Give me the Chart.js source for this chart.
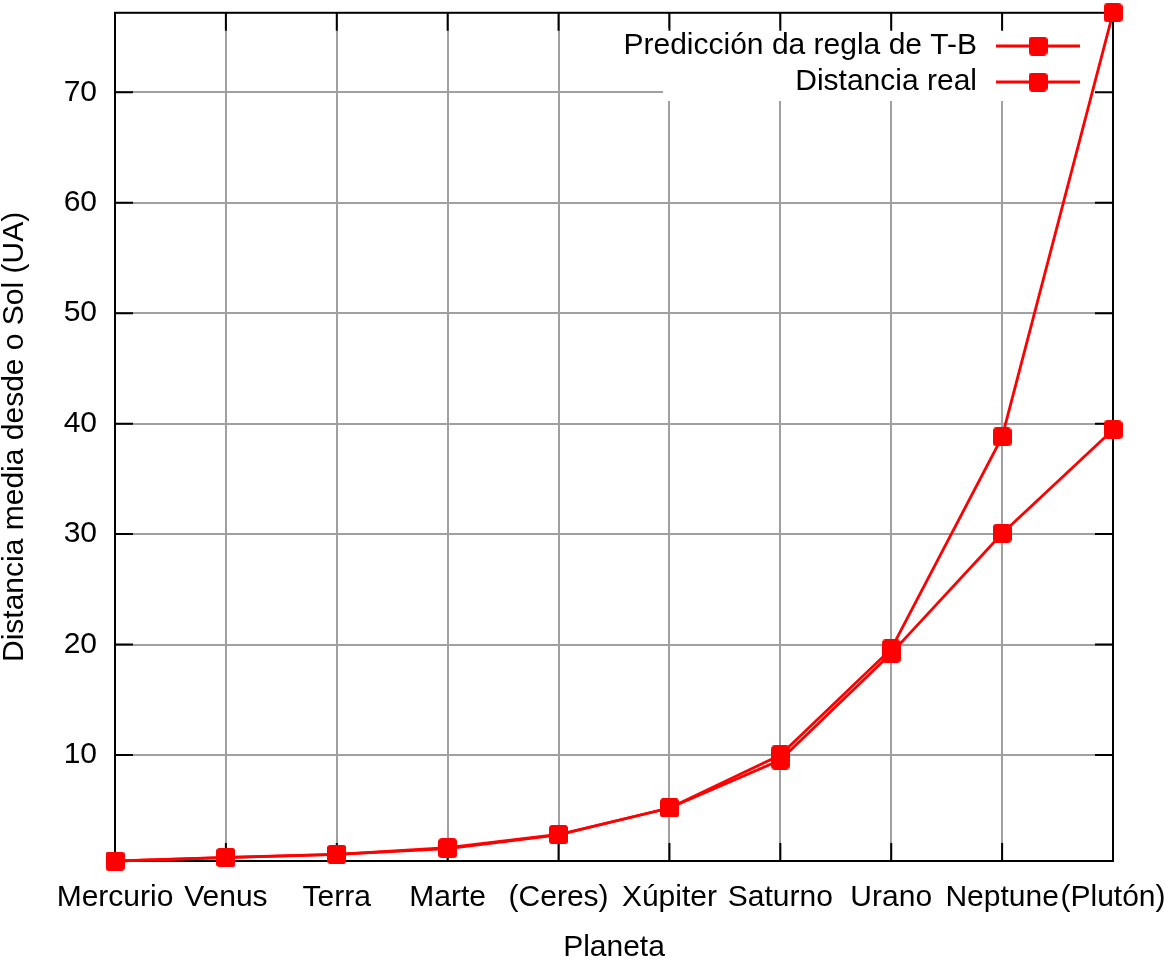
<!DOCTYPE html>
<html><head><meta charset="utf-8">
<script src="https://cdn.jsdelivr.net/npm/chart.js@4/dist/chart.umd.min.js"></script>
<style>html,body{margin:0;padding:0;background:#fff;}canvas{display:block;}</style>
</head><body>
<canvas id="c" width="1165" height="962"></canvas>
<script>
const planets = ['Mercurio','Venus','Terra','Marte','(Ceres)','Xúpiter','Saturno','Urano','Neptune','(Plutón)'];
const predictionTB = [0.4, 0.7, 1.0, 1.6, 2.8, 5.2, 10.0, 19.6, 38.8, 77.2];
const realDistance = [0.39, 0.72, 1.00, 1.52, 2.77, 5.20, 9.54, 19.2, 30.06, 39.44];
const yTickValues = [10, 20, 30, 40, 50, 60, 70];
const seriesNames = ['Predicción da regla de T-B', 'Distancia real'];
const xTitle = 'Planeta';
const yTitle = 'Distancia media desde o Sol (UA)';

const FONT = "'Liberation Sans', Arial, Helvetica, sans-serif";
const FS = 30;
const RED = '#ff0000';
const GRID = '#a0a0a0';

function makeMarker(size) {
  const c = document.createElement('canvas');
  c.width = size; c.height = size;
  const g = c.getContext('2d');
  g.fillStyle = RED;
  g.beginPath();
  g.roundRect(0, 0, size, size, 4);
  g.fill();
  return c;
}
const marker = makeMarker(19);

const framePlugin = {
  id: 'frame',
  beforeDatasetsDraw(chart) {
    const {ctx, chartArea: a, scales: {x, y}} = chart;
    ctx.save();
    // opaque key box
    ctx.fillStyle = '#fff';
    ctx.fillRect(663, 28, 1112 - 663, 73);
    // border
    ctx.strokeStyle = '#000';
    ctx.lineWidth = 2;
    ctx.strokeRect(a.left, a.top, a.right - a.left, a.bottom - a.top);
    // inner ticks (mirrored)
    ctx.beginPath();
    planets.forEach((p, i) => {
      const px = x.getPixelForValue(i);
      ctx.moveTo(px, a.bottom); ctx.lineTo(px, a.bottom - 18);
      ctx.moveTo(px, a.top); ctx.lineTo(px, a.top + 18);
    });
    yTickValues.forEach(v => {
      const py = y.getPixelForValue(v);
      ctx.moveTo(a.left, py); ctx.lineTo(a.left + 18, py);
      ctx.moveTo(a.right, py); ctx.lineTo(a.right - 18, py);
    });
    ctx.stroke();
    ctx.restore();
  },
  afterDatasetsDraw(chart) {
    const {ctx} = chart;
    ctx.save();
    ctx.font = FS + 'px ' + FONT;
    ctx.textAlign = 'right';
    ctx.textBaseline = 'middle';
    const rows = [46, 82];
    seriesNames.forEach((name, i) => {
      const yy = rows[i];
      ctx.fillStyle = '#000';
      ctx.fillText(name, 977, yy);
      ctx.strokeStyle = RED;
      ctx.lineWidth = 2.8;
      ctx.beginPath();
      ctx.moveTo(996, yy); ctx.lineTo(1080, yy);
      ctx.stroke();
      ctx.drawImage(marker, 1038 - 9.5, yy - 9.5);
    });
    ctx.restore();
  }
};

new Chart(document.getElementById('c'), {
  type: 'line',
  data: {
    labels: planets,
    datasets: [
      {label: seriesNames[0], data: predictionTB},
      {label: seriesNames[1], data: realDistance}
    ].map(d => Object.assign(d, {
      borderColor: RED, backgroundColor: RED, borderWidth: 2.8,
      pointStyle: marker, pointRadius: 10, pointHoverRadius: 10,
      tension: 0, clip: false, fill: false
    }))
  },
  options: {
    responsive: false,
    devicePixelRatio: 1,
    animation: false,
    events: [],
    layout: {padding: {top: 10, right: 52, left: 0, bottom: 0}},
    plugins: {legend: {display: false}, tooltip: {enabled: false}},
    scales: {
      x: {
        type: 'category',
        offset: false,
        grid: {color: GRID, lineWidth: 2, drawTicks: false, offset: false},
        border: {display: false},
        ticks: {font: {size: FS, family: FONT}, color: '#000', padding: 19, autoSkip: false, maxRotation: 0, minRotation: 0},
        title: {display: true, text: xTitle, font: {size: FS, family: FONT}, color: '#000', padding: {top: 0, bottom: -4}},
        afterFit(s) { s.height = 101; s.paddingLeft = 0; s.paddingRight = 0; }
      },
      y: {
        type: 'linear',
        min: 0.4, max: 77.2,
        grid: {color: GRID, lineWidth: 2, drawTicks: false},
        border: {display: false},
        ticks: {font: {size: FS, family: FONT}, color: '#000', padding: 18},
        afterBuildTicks(s) { s.ticks = yTickValues.map(v => ({value: v})); },
        title: {display: true, text: yTitle, font: {size: FS, family: FONT}, color: '#000', padding: {top: -3, bottom: 0}},
        afterFit(s) { s.width = 115; s.paddingTop = 0; s.paddingBottom = 0; }
      }
    }
  },
  plugins: [framePlugin]
});
</script>
</body></html>
